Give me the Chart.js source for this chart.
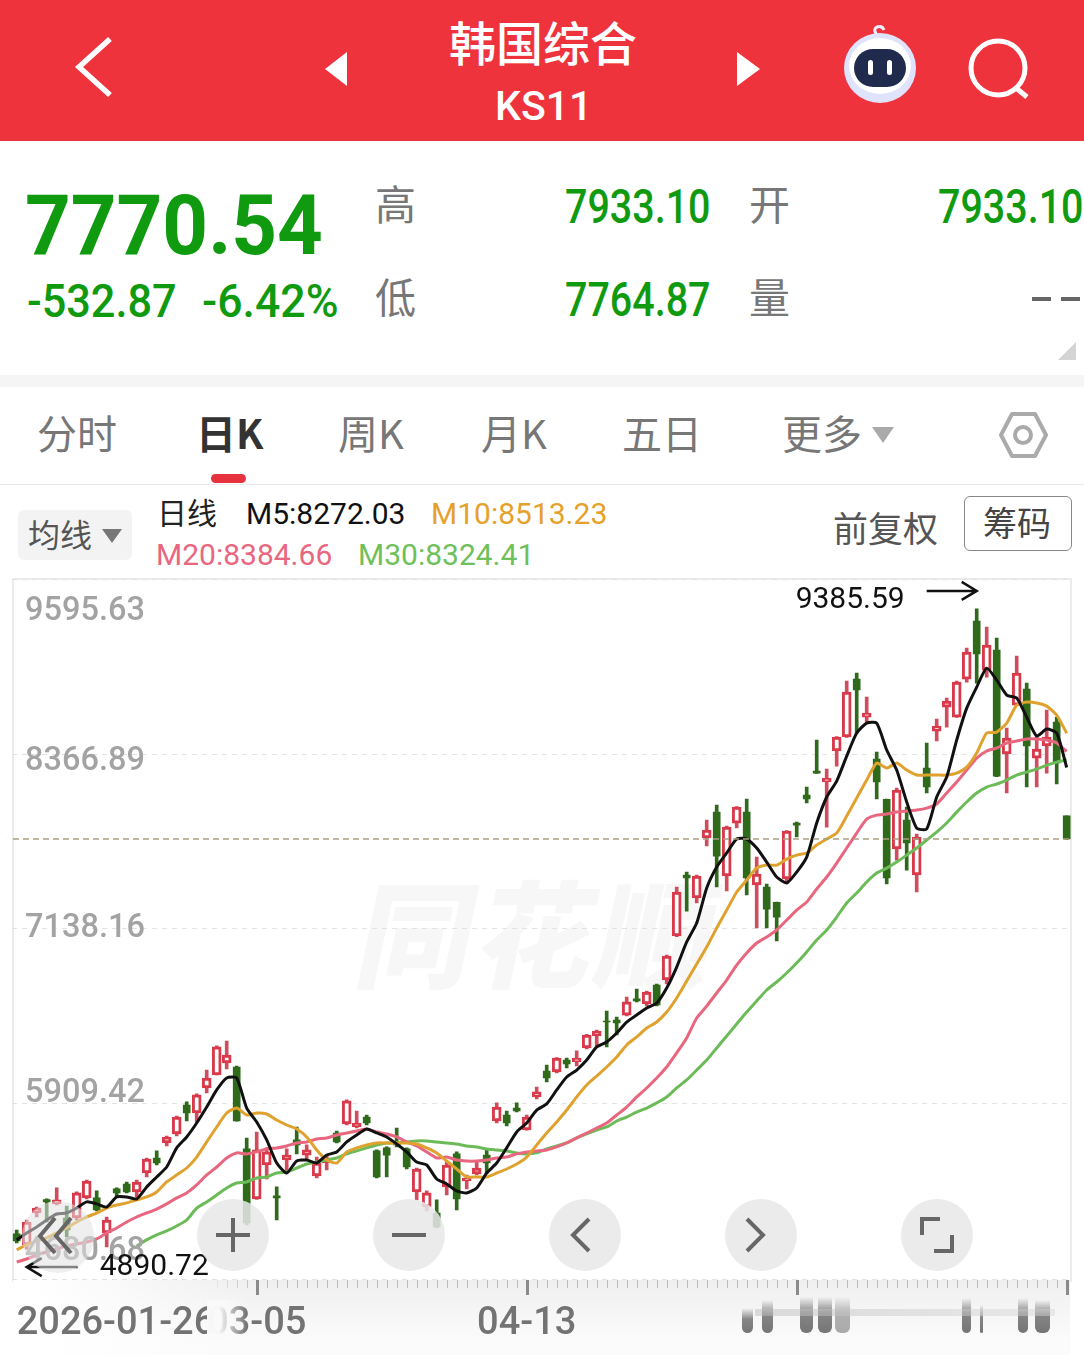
<!DOCTYPE html>
<html lang="zh-CN">
<head>
<meta charset="utf-8">
<title>韩国综合 KS11</title>
<script src="https://cdn.jsdelivr.net/npm/chart.js@4/dist/chart.umd.min.js"></script>
<style>
    html, body { margin: 0; padding: 0; background: #fff; }
    body { position: relative; width: 1084px; height: 1355px; overflow: hidden; font-family: "Noto Sans CJK SC", sans-serif; }
    .box { position: absolute; }
    .t { position: absolute; white-space: nowrap; line-height: 1; transform: translateY(-50%); }
    .num { font-family: Roboto, sans-serif; font-weight: 500; color: #109a10; transform-origin: left center; }
    .big { font-size: 49px; transform: translateY(-50%) scaleX(.805); }
    .sub { font-size: 46px; transform: translateY(-50%) scaleX(.94); }
    .ma { font-family: Roboto, sans-serif; font-size: 30px; }
    .tab { font-size: 40px; color: #777; }
    svg { position: absolute; overflow: visible; }
    canvas { position: absolute; left: 0; top: 570px; }
    .btn { position: absolute; width: 72px; height: 72px; border-radius: 50%; background: rgba(232,232,232,.86); }
    .smear { position: absolute; border-radius: 0 0 6px 6px; background: linear-gradient(to bottom, rgba(130,130,130,0), rgba(120,120,120,.9) 45%, rgba(110,110,110,.95)); }
</style>
</head>
<body>
<!-- top bar -->
<div class="box" style="left:0;top:0;width:1084px;height:141px;background:#ef333d"></div>
<svg style="left:0;top:0" width="1084" height="141">
    <polyline points="110,39 79,67 110,95" fill="none" stroke="#fff" stroke-width="5.5"/>
    <polygon points="347,52 325,69 347,86" fill="#fff"/>
    <polygon points="737,52 760,69 737,86" fill="#fff"/>
    <circle cx="998" cy="68" r="27" fill="none" stroke="#fff" stroke-width="5"/>
    <line x1="1016" y1="88" x2="1027" y2="97" stroke="#fff" stroke-width="5"/>
    <path d="M878 36 q-6 -6 -1 -9 q5 -2 7 3" fill="none" stroke="#eef" stroke-width="3"/>
    <ellipse cx="880" cy="68" rx="36" ry="35" fill="#dfe3fb"/>
    <ellipse cx="880" cy="66" rx="31" ry="28" fill="#fff"/>
    <rect x="854" y="49" width="52" height="38" rx="19" fill="#1f2a4d"/>
    <rect x="868" y="60" width="5" height="15" rx="2.5" fill="#fff"/>
    <rect x="887" y="60" width="5" height="15" rx="2.5" fill="#fff"/>
</svg>
<div class="t" style="left:449px;top:40px;font-size:47px;color:#fff;font-weight:500">韩国综合</div>
<div class="t" style="left:495px;top:106px;font-size:41px;color:#fff;font-family:Roboto,sans-serif;font-weight:500">KS11</div>

<!-- quote block -->
<div class="t" style="left:25px;top:226px;font-family:Roboto,sans-serif;font-weight:700;font-size:84px;color:#109a10;transform:translateY(-50%) scaleX(.95);transform-origin:left center">7770.54</div>
<div class="t num sub" style="left:27px;top:301px">-532.87</div>
<div class="t num" style="left:202px;top:301px;font-size:46px;transform:translateY(-50%) scaleX(.97)">-6.42%</div>
<div class="t" style="left:375px;top:202px;font-size:41px;color:#777">高</div>
<div class="t" style="left:375px;top:295px;font-size:41px;color:#777">低</div>
<div class="t" style="left:749px;top:202px;font-size:41px;color:#777">开</div>
<div class="t" style="left:749px;top:295px;font-size:41px;color:#777">量</div>
<div class="t num big" style="left:565px;top:206px">7933.10</div>
<div class="t num big" style="left:565px;top:299px">7764.87</div>
<div class="t num big" style="left:938px;top:206px">7933.10</div>
<svg style="left:0;top:0" width="1084" height="400">
    <line x1="1032" y1="299" x2="1051" y2="299" stroke="#666" stroke-width="4"/>
    <line x1="1061" y1="299" x2="1080" y2="299" stroke="#666" stroke-width="4"/>
    <polygon points="1076,342 1076,360 1058,360" fill="#d4d4d4"/>
</svg>
<div class="box" style="left:0;top:375px;width:1084px;height:12px;background:#f5f5f5"></div>

<!-- period tabs -->
<div class="t tab" style="left:37px;top:432px">分时</div>
<div class="t tab" style="left:196px;top:432px;color:#333;font-weight:700">日K</div>
<div class="t tab" style="left:338px;top:432px">周K</div>
<div class="t tab" style="left:481px;top:432px">月K</div>
<div class="t tab" style="left:622px;top:432px">五日</div>
<div class="t tab" style="left:782px;top:432px">更多</div>
<svg style="left:0;top:400px" width="1084" height="90">
    <polygon points="872,27 894,27 883,43" fill="#aaa"/>
    <polygon points="1012,14 1035,14 1046,35 1035,56 1012,56 1001,35" fill="none" stroke="#aaa" stroke-width="4" stroke-linejoin="round"/>
    <circle cx="1023" cy="35" r="8" fill="none" stroke="#aaa" stroke-width="4"/>
</svg>
<div class="box" style="left:211px;top:474px;width:35px;height:9px;border-radius:5px;background:#e5323c"></div>
<div class="box" style="left:0;top:484px;width:1084px;height:1px;background:#e9e9e9"></div>

<!-- moving average legend -->
<div class="box" style="left:18px;top:510px;width:114px;height:50px;border-radius:6px;background:#f3f3f3"></div>
<div class="t" style="left:28px;top:533px;font-size:32px;color:#555">均线</div>
<svg style="left:0;top:500px" width="140" height="60"><polygon points="102,29 122,29 112,43" fill="#777"/></svg>
<div class="t" style="left:157px;top:511px;font-size:30px;color:#222">日线</div>
<div class="t ma" style="left:246px;top:514px;color:#111">M5:8272.03</div>
<div class="t ma" style="left:431px;top:514px;color:#e5a12a">M10:8513.23</div>
<div class="t ma" style="left:156px;top:555px;color:#e8677f">M20:8384.66</div>
<div class="t ma" style="left:358px;top:555px;color:#6fbf5a">M30:8324.41</div>
<div class="t" style="left:833px;top:526px;font-size:35px;color:#555">前复权</div>
<div class="box" style="left:964px;top:496px;width:106px;height:53px;border:1px solid #888;border-radius:6px"></div>
<div class="t" style="left:983px;top:522px;font-size:34px;color:#444">筹码</div>

<!-- plot frame, watermark and the band under the axis -->
<div class="box" style="left:12px;top:578px;width:1056px;height:700px;border:2px solid #ececec"></div>
<div class="t" style="left:362px;top:928px;font-size:116px;font-weight:900;color:#f7f7f7;transform:translateY(-50%) skewX(-12deg);letter-spacing:4px">同花顺</div>
<div class="box" style="left:13px;top:1280px;width:1057px;height:75px;background:linear-gradient(to bottom,#efefef,#fbfbfb 80%)"></div>
<div class="box" style="left:13px;top:1280px;width:240px;height:75px;background:linear-gradient(to right,#fff 10%,rgba(255,255,255,0))"></div>

<canvas id="chartKline" width="1084" height="785"></canvas>

<!-- overlays above the plot -->
<div class="box" style="left:207px;top:1300px;width:40px;height:40px;background:linear-gradient(to right,rgba(250,250,250,.98) 30%,rgba(250,250,250,0))"></div>
<div class="smear" style="left:742px;top:1308px;width:11px;height:25px"></div>
<div class="smear" style="left:762px;top:1300px;width:11px;height:33px"></div>
<div class="smear" style="left:800px;top:1297px;width:13px;height:36px"></div>
<div class="smear" style="left:818px;top:1297px;width:14px;height:36px"></div>
<div class="smear" style="left:835px;top:1297px;width:15px;height:36px;opacity:.6"></div>
<div class="smear" style="left:962px;top:1298px;width:9px;height:35px"></div>
<div class="smear" style="left:980px;top:1305px;width:3px;height:28px"></div>
<div class="smear" style="left:1018px;top:1298px;width:10px;height:35px"></div>
<div class="smear" style="left:1035px;top:1300px;width:15px;height:33px"></div>
<div class="box" style="left:755px;top:1309px;width:300px;height:7px;background:linear-gradient(to right,rgba(190,190,190,.5),rgba(215,215,215,.45))"></div>

<div class="box" style="left:22px;top:1201px;width:72px;height:72px;border-radius:50%;background:rgba(225,225,225,.55)"></div>
<div class="btn" style="left:197px;top:1199px"></div>
<div class="btn" style="left:373px;top:1199px"></div>
<div class="btn" style="left:549px;top:1199px"></div>
<div class="btn" style="left:725px;top:1199px"></div>
<div class="btn" style="left:901px;top:1199px"></div>
<svg style="left:0;top:0" width="1084" height="1355">
    <g fill="none" stroke="#666" stroke-width="4">
        <polyline points="55,1218 40,1236 55,1253"/>
        <polyline points="71,1218 56,1236 71,1253"/>
        <line x1="216" y1="1235" x2="250" y2="1235"/>
        <line x1="233" y1="1218" x2="233" y2="1252"/>
        <line x1="392" y1="1235" x2="426" y2="1235"/>
        <polyline points="589,1219 573,1235 589,1251"/>
        <polyline points="747,1219 763,1235 747,1251"/>
        <polyline points="922,1235 922,1219 940,1219"/>
        <polyline points="952,1235 952,1251 934,1251"/>
    </g>
</svg>

<script>
// 日线行情 2026-01-26 到 2026-07-02
const dates = [
    '2026-01-26','2026-01-27','2026-01-28','2026-01-29','2026-01-30',
    '2026-02-02','2026-02-03','2026-02-04','2026-02-05','2026-02-06',
    '2026-02-09','2026-02-10','2026-02-11','2026-02-12','2026-02-13',
    '2026-02-19','2026-02-20','2026-02-23','2026-02-24','2026-02-25','2026-02-26','2026-02-27',
    '2026-03-03','2026-03-04','2026-03-05','2026-03-06',
    '2026-03-09','2026-03-10','2026-03-11','2026-03-12','2026-03-13',
    '2026-03-16','2026-03-17','2026-03-18','2026-03-19','2026-03-20',
    '2026-03-23','2026-03-24','2026-03-25','2026-03-26','2026-03-27',
    '2026-03-30','2026-03-31','2026-04-01','2026-04-02','2026-04-03',
    '2026-04-06','2026-04-07','2026-04-08','2026-04-09','2026-04-10',
    '2026-04-13','2026-04-14','2026-04-15','2026-04-16','2026-04-17',
    '2026-04-20','2026-04-21','2026-04-22','2026-04-23','2026-04-24',
    '2026-04-27','2026-04-28','2026-04-29','2026-04-30','2026-05-04',
    '2026-05-06','2026-05-07','2026-05-08',
    '2026-05-11','2026-05-12','2026-05-13','2026-05-14','2026-05-15',
    '2026-05-18','2026-05-19','2026-05-20','2026-05-21','2026-05-22',
    '2026-05-26','2026-05-27','2026-05-28','2026-05-29',
    '2026-06-01','2026-06-02','2026-06-04','2026-06-05',
    '2026-06-08','2026-06-09','2026-06-10','2026-06-11','2026-06-12',
    '2026-06-15','2026-06-16','2026-06-17','2026-06-18','2026-06-19',
    '2026-06-22','2026-06-23','2026-06-24','2026-06-25','2026-06-26',
    '2026-06-29','2026-06-30','2026-07-01','2026-07-02'
];

const opens = [
    4997,4920,5144,5238,5208,5109,5109,5250,5250,5004,5313,5348,5292,5425,5530,5636,5699,5902,5846,6022,6113,6197,
    6169,5594,5243,5481,5264,5516,5657,5551,5404,5495,5706,5769,5748,5818,5580,5601,5643,5594,5292,5186,5144,5327,
    5559,5369,5418,5551,5790,5832,5881,5727,5959,6141,6134,6218,6204,6303,6387,6492,6499,6534,6647,6612,6745,6780,
    7089,7517,7356,7777,7959,7510,7882,7959,7447,7433,7325,7489,7882,8079,8247,8170,8388,8486,8893,8626,8331,8048,
    7700,7903,7517,8268,8528,8696,8626,8893,9300,8956,9097,8367,8710,8823,8338,8423,8591,7933.10
];
const highs = [
    5025,5095,5186,5243,5320,5193,5292,5376,5299,5116,5320,5362,5376,5530,5580,5685,5825,5924,5980,6148,6317,6352,
    6176,5671,5713,5601,5327,5594,5748,5622,5537,5551,5720,5938,5860,5832,5587,5608,5741,5601,5460,5299,5236,5502,
    5573,5411,5502,5587,5917,5860,5917,5832,6029,6183,6235,6232,6282,6398,6429,6562,6520,6661,6717,6703,6752,6955,
    7433,7538,7517,7903,8008,7861,7997,8051,7643,7454,7328,7830,7889,8135,8465,8261,8490,8879,8935,8767,8381,8051,
    8128,7994,7805,8444,8612,8760,8879,9111,9385.59,9258,9181,8549,9054,8865,8490,8675,8626,7933.10
];
const lows = [
    4934,4890.72,5116,5081,5200,4976,5095,5243,5158,4906,5264,5285,5257,5397,5481,5615,5685,5790,5783,5987,6113,6155,
    5788,5060,5240,5383,5095,5432,5559,5523,5390,5446,5636,5762,5741,5762,5390,5397,5608,5453,5236,5158,5040,5271,
    5165,5313,5411,5425,5776,5755,5853,5725,5945,6064,6127,6162,6176,6296,6317,6310,6394,6527,6626,6598,6598,6752,
    7085,7264,7321,7721,7433,7405,7847,7377,7145,7145,7054,7461,7784,8023,8230,7854,8282,8483,8514,8584,8051,7454,
    7622,7552,7398,8093,8458,8556,8623,8872,8865,8907,8208,8093,8707,8135,8135,8233,8156,7764.87
];
const closes = [
    4948,5081,5179,5222,5236,5025,5285,5369,5165,5095,5285,5292,5362,5523,5495,5678,5818,5846,5973,6092,6310,6253,
    5790,5074,5587,5573,5250,5551,5622,5587,5495,5530,5643,5931,5776,5776,5397,5551,5622,5467,5453,5285,5046,5481,
    5243,5390,5460,5495,5888,5776,5860,5818,5994,6092,6232,6190,6232,6394,6422,6485,6478,6626,6633,6696,6605,6948,
    7398,7496,7510,7833,7650,7854,7994,7496,7524,7278,7222,7826,7868,8051,8233,8198,8486,8802,8816,8654,8170,7496,
    8114,7742,7784,8135,8563,8739,8872,9083,9069,9132,8212,8479,8935,8423,8402,8486,8303.41,7770.54
];

const ma5 = [
    4955,5004,5046,5095,5137,5144,5179,5222,5208,5186,5257,5257,5243,5327,5397,5467,5601,5678,5776,5888,6008,6092,
    6092,5881,5783,5657,5495,5425,5509,5516,5495,5551,5573,5643,5692,5734,5706,5678,5629,5573,5502,5481,5383,5348,
    5299,5285,5320,5425,5495,5601,5713,5776,5867,5910,6008,6099,6148,6218,6310,6345,6408,6485,6534,6583,6619,6724,
    6871,7047,7180,7426,7573,7672,7770,7770,7707,7608,7503,7461,7538,7643,7882,8065,8177,8352,8514,8584,8584,8395,
    8254,8030,7847,7840,8065,8205,8465,8689,8837,8970,8886,8781,8760,8626,8493,8542,8514,8272.03
];
const ma10 = [
    4885,4920,4948,4969,5004,5039,5081,5116,5144,5179,5200,5215,5236,5257,5292,5362,5411,5460,5537,5643,5748,5846,
    5881,5832,5846,5839,5797,5762,5734,5678,5587,5516,5495,5573,5601,5622,5636,5636,5636,5636,5629,5601,5566,5509,
    5453,5397,5397,5397,5425,5453,5488,5537,5622,5706,5783,5867,5959,6043,6106,6169,6239,6324,6380,6443,6485,6555,
    6654,6773,6892,7012,7145,7271,7398,7482,7566,7587,7587,7629,7657,7672,7728,7770,7812,7931,8058,8184,8303,8268,
    8303,8254,8219,8219,8219,8219,8233,8275,8374,8514,8521,8584,8710,8732,8725,8703,8640,8513.23
];
const ma20 = [
    4800,4821,4849,4871,4892,4913,4927,4941,4962,5004,5039,5081,5116,5144,5172,5208,5250,5285,5341,5411,5467,5530,
    5566,5559,5573,5594,5601,5615,5636,5643,5664,5671,5692,5706,5720,5734,5713,5699,5678,5643,5615,5573,5530,5537,
    5516,5509,5509,5516,5530,5537,5559,5573,5580,5587,5608,5636,5671,5706,5741,5776,5832,5888,5959,6022,6092,6169,
    6268,6373,6513,6597,6689,6780,6885,6970,7040,7082,7131,7201,7271,7328,7419,7503,7601,7707,7812,7910,7938,7945,
    7959,7966,7973,7987,8016,8093,8170,8254,8338,8388,8409,8444,8458,8472,8472,8465,8444,8384.66
];
const ma30 = [
    null,null,null,null,null,null,null,null,null,null,null,null,
    4913,4955,4990,5018,5053,5095,5179,5222,5271,5320,
    5355,5362,5390,5397,5425,5432,5460,5488,5502,5516,5530,5559,5580,5601,5622,5636,5636,5643,5650,5650,5643,5636,
    5629,5615,5608,5594,5587,5580,5566,5559,5566,5594,5615,5636,5671,5699,5727,5748,5790,5818,5853,5881,5917,5959,
    6022,6078,6148,6218,6303,6387,6471,6555,6633,6710,6766,6829,6899,6977,7061,7131,7222,7321,7391,7468,7531,7566,
    7608,7657,7707,7763,7819,7882,7959,8030,8093,8135,8156,8184,8219,8240,8261,8289,8310,8324.41
];

const yTicks = [4680.68, 5909.42, 7138.16, 8366.89, 9595.63];
const xLabels = ['2026-01-26', '2026-03-05', '2026-04-13'];
const majorTicks = ['2026-03-05', '2026-04-13', '2026-05-22', '2026-07-02'];
const lastPrice = 7770.54;
const highPoint = { date: '2026-06-19', price: 9385.59 };
const lowPoint = { date: '2026-01-27', price: 4890.72 };

const RED = '#d93a4b';
const RED_WICK = '#cf4e5e';
const GREEN = '#2f6a1b';

const isUp = i => closes[i] >= opens[i];

// y 轴刻度文字相对网格线的偏移
const labelShift = { 9595.63: 33, 8366.89: 8, 7138.16: 0, 5909.42: -10, 4680.68: -27 };

const overlayPlugin = {
    id: 'overlay',
    afterDraw(chart) {
        const ctx = chart.ctx;
        const x = chart.scales.x;
        const y = chart.scales.y;
        const top = chart.chartArea.bottom;

        // 底部刻度尺
        dates.forEach((d, i) => {
            const px = Math.round(x.getPixelForValue(i)) + 0.5;
            const major = majorTicks.includes(d);
            if (px < 215) return;
            ctx.globalAlpha = Math.min(1, (px - 205) / 50);
            ctx.strokeStyle = major ? '#8a8a8a' : '#bdbdbd';
            ctx.lineWidth = major ? 3 : 1;
            ctx.beginPath();
            ctx.moveTo(px, top + 1);
            ctx.lineTo(px, top + (major ? 16 : 9));
            ctx.stroke();
        });
        ctx.globalAlpha = 1;

        // 最新价虚线
        const py = y.getPixelForValue(lastPrice);
        ctx.save();
        ctx.strokeStyle = '#ab9f80';
        ctx.lineWidth = 1.5;
        ctx.setLineDash([6, 4]);
        ctx.beginPath();
        ctx.moveTo(13, py);
        ctx.lineTo(1070, py);
        ctx.stroke();
        ctx.restore();

        // y 轴文字
        ctx.font = '500 32.5px Roboto, sans-serif';
        ctx.fillStyle = '#a3a3a3';
        ctx.textAlign = 'left';
        ctx.textBaseline = 'middle';
        yTicks.forEach(v => {
            ctx.fillText(v.toFixed(2), 25, y.getPixelForValue(v) + labelShift[v]);
        });

        // 最高、最低标注
        ctx.font = '30px Roboto, sans-serif';
        ctx.fillStyle = '#111';
        ctx.strokeStyle = '#111';
        ctx.lineWidth = 2.5;
        const hx = x.getPixelForValue(dates.indexOf(highPoint.date));
        const hy = y.getPixelForValue(highPoint.price) - 18;
        ctx.textAlign = 'right';
        ctx.fillText(highPoint.price.toFixed(2), hx - 72, hy + 10);
        drawArrow(ctx, hx - 50, hx, hy);
        const lx = x.getPixelForValue(dates.indexOf(lowPoint.date));
        const ly = y.getPixelForValue(lowPoint.price) + 18;
        ctx.textAlign = 'left';
        ctx.fillText(lowPoint.price.toFixed(2), lx + 73, ly);
        drawArrow(ctx, lx + 51, lx, ly);
    }
};

function drawArrow(ctx, from, to, y) {
    const dir = to > from ? -1 : 1;
    ctx.beginPath();
    ctx.moveTo(from, y);
    ctx.lineTo(to, y);
    ctx.moveTo(to + dir * 15, y - 9);
    ctx.lineTo(to, y);
    ctx.lineTo(to + dir * 15, y + 9);
    ctx.stroke();
}

function crearLinea(label, data, color) {
    return {
        type: 'line',
        label,
        data,
        borderColor: color,
        borderWidth: 3,
        pointRadius: 0,
        tension: 0.2,
        order: 1
    };
}

new Chart(document.getElementById('chartKline'), {
    data: {
        labels: dates,
        datasets: [
            crearLinea('M5', ma5, '#111111'),
            crearLinea('M10', ma10, '#e0a22e'),
            crearLinea('M20', ma20, '#e8677f'),
            crearLinea('M30', ma30, '#6cbb58'),
            {
                type: 'bar',
                label: '涨',
                data: dates.map((_, i) => isUp(i) ? [opens[i], closes[i]] : null),
                backgroundColor: '#ffffff',
                borderColor: RED,
                borderWidth: 3,
                borderSkipped: false,
                barThickness: 9,
                grouped: false,
                order: 2
            },
            {
                type: 'bar',
                label: '跌',
                data: dates.map((_, i) => isUp(i) ? null : [closes[i], opens[i]]),
                backgroundColor: GREEN,
                barThickness: 7,
                grouped: false,
                order: 2
            },
            {
                type: 'bar',
                label: '影线',
                data: dates.map((_, i) => [lows[i], highs[i]]),
                backgroundColor: dates.map((_, i) => isUp(i) ? RED_WICK : GREEN),
                barThickness: 3,
                grouped: false,
                order: 3
            }
        ]
    },
    options: {
        responsive: false,
        animation: false,
        devicePixelRatio: 1,
        layout: { padding: { left: 11.7, right: 12.3, top: 9, bottom: 0 } },
        plugins: { legend: { display: false }, tooltip: { enabled: false } },
        scales: {
            x: {
                offset: true,
                grid: { display: false },
                border: { display: false },
                afterFit: scale => {
                    scale.height = 76;
                    scale.paddingLeft = 0;
                    scale.paddingRight = 0;
                },
                ticks: {
                    autoSkip: false,
                    maxRotation: 0,
                    minRotation: 0,
                    align: 'inner',
                    padding: 15,
                    color: '#737373',
                    font: { family: 'Roboto, sans-serif', size: 38, weight: '500' },
                    callback(value) {
                        const d = this.getLabelForValue(value);
                        if (!xLabels.includes(d)) return '';
                        return d === dates[0] ? d : d.slice(5);
                    }
                }
            },
            y: {
                min: yTicks[0],
                max: yTicks[yTicks.length - 1],
                afterFit: scale => { scale.width = 0; },
                afterBuildTicks: scale => { scale.ticks = yTicks.map(value => ({ value })); },
                border: { display: false, dash: [5, 5] },
                grid: { color: '#e2e2e2', lineWidth: 1, drawTicks: false },
                ticks: { display: false }
            }
        }
    },
    plugins: [overlayPlugin]
});
</script>
</body>
</html>
